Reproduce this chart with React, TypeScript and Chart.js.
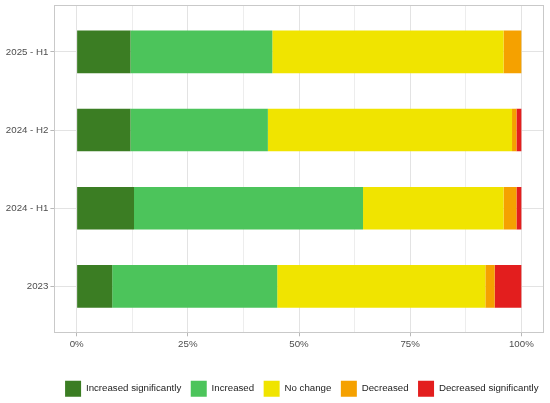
import React, { useEffect, useRef } from "react";
import { Chart, registerables } from "chart.js";

Chart.register(...registerables);

const categories = ["2023", "2024 - H1", "2024 - H2", "2025 - H1"];
const seriesNames = [
  "Increased significantly",
  "Increased",
  "No change",
  "Decreased",
  "Decreased significantly",
];
const increasedSignificantly = [8.0, 12.9, 12.1, 12.1];
const increased = [37.1, 51.5, 30.9, 31.9];
const noChange = [46.8, 31.6, 54.9, 52.0];
const decreased = [2.1, 2.9, 1.0, 4.0];
const decreasedSignificantly = [6.0, 1.1, 1.1, 0];
const seriesValues = [increasedSignificantly, increased, noChange, decreased, decreasedSignificantly];
const seriesColors = ["#3b7d23", "#4cc45b", "#f0e400", "#f5a100", "#e31e1e"];
const majorTicks = [0, 25, 50, 75, 100];
const minorTicks = [12.5, 37.5, 62.5, 87.5];
const FONT = '"Liberation Sans", Arial, sans-serif';

const panelBorder = {
  id: "panelBorder",
  beforeDatasetsDraw(chart: any) {
    const { ctx, chartArea } = chart;
    const l = Math.round(chartArea.left) + 0.5;
    const t = Math.round(chartArea.top) + 0.5;
    const r = Math.round(chartArea.right) - 0.5;
    const b = Math.round(chartArea.bottom) - 0.5;
    ctx.save();
    ctx.strokeStyle = "#c9c9c9";
    ctx.lineWidth = 1;
    ctx.strokeRect(l, t, r - l, b - t);
    ctx.restore();
  },
};

export default function App() {
  const ref = useRef<HTMLCanvasElement | null>(null);
  useEffect(() => {
    if (!ref.current) return;
    const allTicks = [...majorTicks, ...minorTicks].sort((a, b) => a - b);
    const isMajor = (v: number) => majorTicks.includes(v);
    const chart = new Chart(ref.current, {
      type: "bar",
      data: {
        datasets: seriesNames.map((name, k) => ({
          label: name,
          data: seriesValues[k].map((v, i) => ({ x: v, y: i })),
          backgroundColor: seriesColors[k],
          borderWidth: 0,
          categoryPercentage: 1,
          barPercentage: 0.545,
        })),
      },
      options: {
        indexAxis: "y",
        animation: false,
        responsive: false,
        events: [],
        layout: { padding: { left: 0, right: -53.6, top: 5, bottom: -3.7 } },
        scales: {
          x: {
            type: "linear",
            stacked: true,
            min: -5,
            max: 105,
            offset: false,
            afterBuildTicks: (s: any) => {
              s.ticks = allTicks.map((v) => ({ value: v }));
            },
            afterFit: (s: any) => {
              s.height = 37.9;
              s.paddingLeft = 0;
              s.paddingRight = 0;
            },
            border: { display: false },
            grid: {
              offset: false,
              color: (c: any) => (c.tick && isMajor(c.tick.value) ? "#e3e3e3" : "#ededed"),
              tickColor: (c: any) => (c.tick && isMajor(c.tick.value) ? "#b8b8b8" : "rgba(0,0,0,0)"),
              tickLength: 3,
              lineWidth: 1,
            },
            ticks: {
              autoSkip: false,
              maxRotation: 0,
              padding: 2,
              color: "#4d4d4d",
              font: { family: FONT, size: 9.7 },
              callback: (v: any) => (isMajor(Number(v)) ? `${v}%` : ""),
            },
          },
          y: {
            type: "linear",
            stacked: true,
            min: -0.6,
            max: 3.6,
            offset: false,
            afterBuildTicks: (s: any) => {
              s.ticks = categories.map((_, i) => ({ value: i }));
            },
            afterFit: (s: any) => {
              s.width = 54.4;
              s.paddingTop = 0;
              s.paddingBottom = 0;
            },
            border: { display: false },
            grid: {
              offset: false,
              color: "#e3e3e3",
              tickColor: "#b8b8b8",
              tickLength: 4,
              lineWidth: 1,
            },
            ticks: {
              autoSkip: false,
              padding: 2,
              color: "#4d4d4d",
              font: { family: FONT, size: 9.7 },
              callback: (v: any) => categories[Number(v)] ?? "",
            },
          },
          yR: {
            type: "linear",
            axis: "y",
            position: "right",
            display: true,
            afterFit: (s: any) => {
              s.width = 60;
              s.paddingTop = 0;
              s.paddingBottom = 0;
            },
            border: { display: false },
            grid: { display: false, drawTicks: false },
            ticks: { display: false },
          },
        },
        plugins: {
          legend: {
            position: "bottom",
            align: "center",
            labels: {
              boxWidth: 16,
              boxHeight: 16,
              padding: 9.5,
              color: "#222222",
              font: { family: FONT, size: 9.7 },
            },
          },
          tooltip: { enabled: false },
        },
      },
      plugins: [panelBorder],
    } as any);
    return () => chart.destroy();
  }, []);
  return (
    <div style={{ position: "fixed", left: 0, top: 0, width: 550, height: 403, background: "#fff" }}>
      <canvas ref={ref} width={550} height={403} style={{ width: 550, height: 403, display: "block" }} />
    </div>
  );
}
